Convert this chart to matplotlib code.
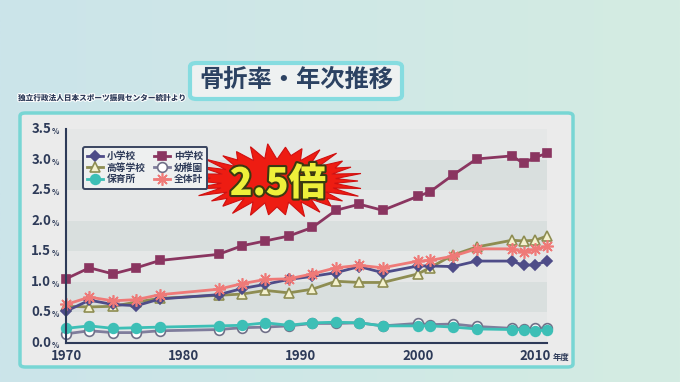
import numpy as np
import matplotlib
matplotlib.use("Agg")
import matplotlib.pyplot as plt
from matplotlib.patches import FancyBboxPatch, Polygon
import matplotlib.patheffects as pe

plt.rcParams['font.family'] = ['Noto Sans CJK JP', 'DejaVu Sans']

# 年度 (survey years)
years = [1970, 1972, 1974, 1976, 1978, 1983, 1985, 1987, 1989, 1991, 1993,
         1995, 1997, 2000, 2001, 2003, 2005, 2008, 2009, 2010, 2011]

# fracture rate (%)
elementary = [0.52, 0.70, 0.63, 0.61, 0.72, 0.79, 0.89, 0.96, 1.04, 1.09, 1.15,
              1.25, 1.15, 1.26, 1.26, 1.25, 1.34, 1.34, 1.27, 1.28, 1.34]
junior_high = [1.05, 1.23, 1.13, 1.23, 1.35, 1.45, 1.59, 1.67, 1.75, 1.89, 2.17,
               2.27, 2.17, 2.40, 2.47, 2.75, 3.01, 3.06, 2.94, 3.04, 3.10]
high_school = [0.60, 0.59, 0.60, 0.67, 0.73, 0.78, 0.80, 0.86, 0.82, 0.88, 1.01,
               0.99, 0.99, 1.13, 1.23, 1.44, 1.57, 1.68, 1.67, 1.68, 1.75]
kindergarten = [0.15, 0.20, 0.17, 0.17, 0.20, 0.22, 0.25, 0.26, 0.28, 0.32, 0.32,
                0.33, 0.28, 0.32, 0.30, 0.31, 0.27, 0.24, 0.23, 0.24, 0.25]
nursery = [0.24, 0.28, 0.24, 0.25, 0.26, 0.28, 0.29, 0.33, 0.29, 0.33, 0.34,
           0.33, 0.28, 0.28, 0.28, 0.26, 0.23, 0.22, 0.22, 0.20, 0.21]
total = [0.63, 0.75, 0.69, 0.71, 0.79, 0.88, 0.97, 1.04, 1.05, 1.13, 1.23,
         1.27, 1.23, 1.34, 1.35, 1.42, 1.54, 1.54, 1.49, 1.53, 1.58]

y_ticks = [0.0, 0.5, 1.0, 1.5, 2.0, 2.5, 3.0, 3.5]
x_ticks = [1970, 1980, 1990, 2000, 2010]

W, H = 680, 382
NAVY = "#2d3a58"


def px(x, y):
    """pixel (top-left origin) -> figure fraction"""
    return x / W, 1 - y / H


fig = plt.figure(figsize=(6.8, 3.82), dpi=100)

# background gradient
bg = fig.add_axes([0, 0, 1, 1], zorder=-10)
grad = np.linspace(0, 1, 256)[None, :]
left_c = np.array([0xcb, 0xe4, 0xea]) / 255
right_c = np.array([0xd4, 0xec, 0xe2]) / 255
img = left_c[None, None, :] * (1 - grad[..., None]) + right_c[None, None, :] * grad[..., None]
bg.imshow(img, aspect='auto', extent=[0, 1, 0, 1])
bg.axis('off')

# chart panel
x0, y0 = px(20, 367)
x1, y1 = px(573, 113)
fig.patches.append(FancyBboxPatch((x0, y0), x1 - x0, y1 - y0,
                                  boxstyle="round,pad=0,rounding_size=0.008",
                                  transform=fig.transFigure, facecolor="#ebebeb",
                                  edgecolor="#78d6d4", linewidth=2.5, zorder=-5))

# title box
x0, y0 = px(190, 99)
x1, y1 = px(402, 63)
fig.patches.append(FancyBboxPatch((x0, y0), x1 - x0, y1 - y0,
                                  boxstyle="round,pad=0,rounding_size=0.01",
                                  transform=fig.transFigure, facecolor="#eef1f1",
                                  edgecolor="#86dce0", linewidth=3, zorder=-5))
fig.text(*px(296, 80), "骨折率・年次推移", ha='center', va='center',
         fontsize=17.5, fontweight='bold', color="#2c4262")
fig.text(*px(18, 98), "独立行政法人日本スポーツ振興センター統計より", ha='left', va='center',
         fontsize=5.5, fontweight='heavy', color=NAVY,
         path_effects=[pe.withStroke(linewidth=1.5, foreground="white")])

# plot axes
ax_l, ax_b = px(66, 343)
ax_r, ax_t = px(547, 129)
ax = fig.add_axes([ax_l, ax_b, ax_r - ax_l, ax_t - ax_b])
ax.set_facecolor("#e5e7e7")
for lo in (0.5, 1.5, 2.5):
    ax.axhspan(lo, lo + 0.5, color="#d9dfde", zorder=0, lw=0)
ax.set_xlim(1970, 2011)
ax.set_ylim(0, 3.5)

# burst behind lines
cx, cy = 277, 181
n = 30
ang = np.linspace(0, 2 * np.pi, 2 * n, endpoint=False)
jit = np.array([1.0, 0.93, 1.06, 0.95, 1.1, 0.9, 1.0, 1.08] * 8)[:2 * n]
rx = np.where(np.arange(2 * n) % 2 == 0, 81, 62) * jit
ry = np.where(np.arange(2 * n) % 2 == 0, 34, 24) * jit
pts = [px(cx + a * np.cos(t), cy + b * np.sin(t)) for t, a, b in zip(ang, rx, ry)]
ax.add_patch(Polygon(pts, closed=True, transform=fig.transFigure,
                     facecolor="#ee1c12", edgecolor="#d01010", lw=0.8, zorder=1.5))
fig.text(*px(278, 184), "2.5倍", ha='center', va='center', fontsize=27,
         fontweight='heavy', color="#eef03a", zorder=5,
         path_effects=[pe.withStroke(linewidth=3, foreground="#3a3a10")])

series = [
    ("小学校", elementary, dict(color="#4e4c88", marker="D", ms=5.5, mfc="#4e4c88", mec="#4e4c88")),
    ("高等学校", high_school, dict(color="#8e8d52", marker="^", ms=7, mfc="#f4f2cf", mec="#8e8d52")),
    ("保育所", nursery, dict(color="#3dbfb6", marker="o", ms=7, mfc="#3dbfb6", mec="#3dbfb6")),
    ("中学校", junior_high, dict(color="#8a3560", marker="s", ms=6, mfc="#8a3560", mec="#8a3560")),
    ("幼稚園", kindergarten, dict(color="#7f7d9c", marker="o", ms=7, mfc="white", mec="#707088")),
    ("全体計", total, dict(color="#ef7a78", marker=(8, 2, 0), ms=9, mfc="#ef7a78", mec="#ef7a78")),
]
z = {"幼稚園": 3, "保育所": 3.5, "高等学校": 4, "小学校": 4.2, "全体計": 4.5, "中学校": 4.8}
handles = []
for name, vals, st in series:
    line, = ax.plot(years, vals, lw=2, zorder=z[name], mew=1.2, label=name,
                    clip_on=False, **st)
    handles.append(line)

leg = ax.legend(handles=handles, ncol=2, loc='upper left', bbox_to_anchor=(0.035, 0.916),
                borderaxespad=0, fontsize=7, frameon=True, fancybox=True,
                handlelength=1.6, columnspacing=0.9, labelspacing=0.15,
                handletextpad=0.4, borderpad=0.45)
leg.get_frame().set_facecolor("#eef0f0")
leg.get_frame().set_edgecolor("#3a4560")
leg.get_frame().set_linewidth(1.4)
leg.get_frame().set_alpha(1)
leg.set_zorder(6)
for t in leg.get_texts():
    t.set_fontweight('bold')
    t.set_color(NAVY)

# axes styling
for s in ("top", "right"):
    ax.spines[s].set_visible(False)
ax.spines["left"].set_color(NAVY)
ax.spines["bottom"].set_color(NAVY)
ax.spines["left"].set_linewidth(1.5)
ax.spines["bottom"].set_linewidth(1.5)
ax.spines["left"].set_zorder(6)
ax.spines["bottom"].set_zorder(2)
ax.set_xticks(x_ticks)
ax.set_yticks(y_ticks)
ax.set_xticklabels([])
ax.set_yticklabels([])
ax.tick_params(length=0)

for v in y_ticks:
    ax.text(-0.031, v, f"{v:.1f}", transform=ax.get_yaxis_transform(), ha='right',
            va='center', fontsize=9.5, fontweight='bold', color=NAVY)
    ax.text(-0.030, v - 0.04, "%", transform=ax.get_yaxis_transform(), ha='left',
            va='center', fontsize=5.5, fontweight='bold', color=NAVY)
for v in x_ticks:
    ax.text(v, -0.03, str(v), transform=ax.get_xaxis_transform(), ha='center',
            va='top', fontsize=9.5, fontweight='bold', color=NAVY)
ax.text(2011.5, -0.045, "年度", transform=ax.get_xaxis_transform(), ha='left',
        va='top', fontsize=6, fontweight='bold', color=NAVY)

fig.savefig("out.png", dpi=100)
